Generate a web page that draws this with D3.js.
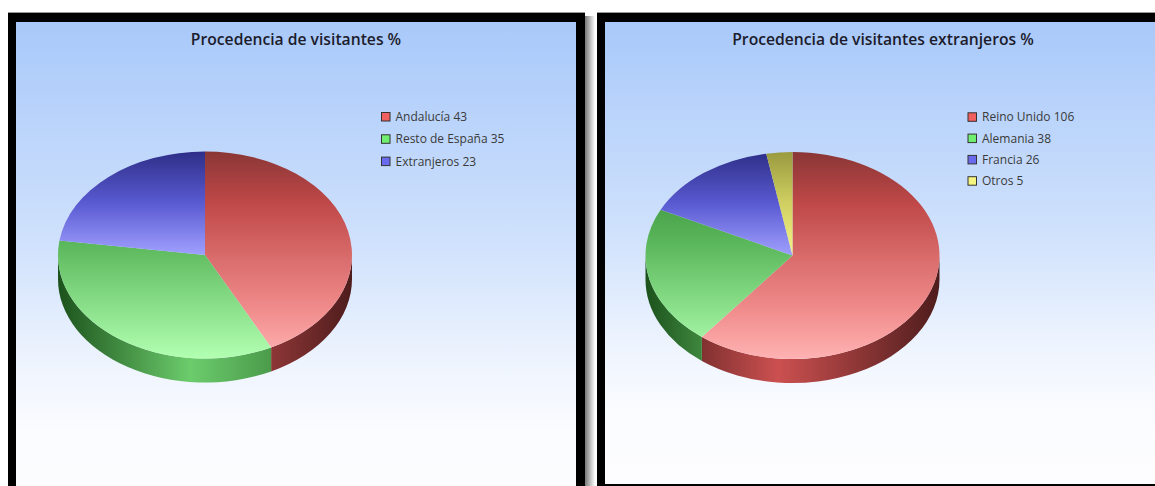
<!DOCTYPE html>
<html>
<head>
<meta charset="utf-8">
<script src="https://cdn.jsdelivr.net/npm/d3@7"></script>
<style>
  body { margin: 0; background: #fff; }
  svg { display: block; }
  text { font-family: "Open Sans", "Noto Sans", sans-serif; }
</style>
</head>
<body>
<script>
// data
const titles = ["Procedencia de visitantes %", "Procedencia de visitantes extranjeros %"]
const leftLabels = ["Andalucía", "Resto de España", "Extranjeros"]
const leftValues = [43, 35, 23]
const rightLabels = ["Reino Unido", "Alemania", "Francia", "Otros"]
const rightValues = [106, 38, 26, 5]

// colour ramps for the top faces (dark at the back, light at the front)
const topRamps = {
  red:    [[0, "#8a3636"], [0.25, "#c04848"], [0.5, "#d86a6a"], [0.75, "#f08a8a"], [1, "#ffb2b2"]],
  green:  [[0, "#2e7a2e"], [0.25, "#48a048"], [0.45, "#5cb85c"], [0.75, "#8ae08a"], [1, "#b2ffb2"]],
  blue:   [[0, "#2e2e88"], [0.25, "#5a5ad2"], [0.5, "#a0a0ff"], [1, "#c8c8ff"]],
  yellow: [[0, "#9a9a40"], [0.25, "#d0d062"], [0.5, "#f4f48a"], [1, "#ffffb8"]]
}
const sideRamps = {
  red:    [[0, "#4a1a1a"], [0.45, "#cc5050"], [1, "#4e1c1c"]],
  green:  [[0, "#1c521c"], [0.45, "#6ccc6c"], [1, "#2a6a2a"]],
  blue:   [[0, "#1e1e60"], [0.45, "#6060d0"], [1, "#1e1e60"]],
  yellow: [[0, "#60601e"], [0.45, "#d0d060"], [1, "#60601e"]]
}
const swatch = { red: "#f06060", green: "#70ee70", blue: "#6a6aee", yellow: "#f4f480" }

const W = 1155, H = 486

const svg = d3.select("body")
  .append("svg")
  .attr("width", W)
  .attr("height", H)

const defs = svg.append("defs")

const bg = defs.append("linearGradient")
  .attr("id", "bg")
  .attr("x1", 0).attr("y1", 0).attr("x2", 0).attr("y2", 1)
bg.append("stop").attr("offset", 0).attr("stop-color", "#a9c9fa")
bg.append("stop").attr("offset", 0.45).attr("stop-color", "#cfe1fc")
bg.append("stop").attr("offset", 0.7).attr("stop-color", "#eef4fe")
bg.append("stop").attr("offset", 0.85).attr("stop-color", "#fbfcff")
bg.append("stop").attr("offset", 1).attr("stop-color", "#fdfdff")

const shadow = defs.append("linearGradient")
  .attr("id", "shadow")
  .attr("x1", 0).attr("y1", 0).attr("x2", 1).attr("y2", 0)
shadow.append("stop").attr("offset", 0).attr("stop-color", "#777")
shadow.append("stop").attr("offset", 1).attr("stop-color", "#fff")

const panels = [
  { x: 16, y: 22, w: 560, title: titles[0], labels: leftLabels, values: leftValues,
    colors: ["red", "green", "blue"], cx: 205, cy: 255, legX: 381, legY: 112, legStep: 22.3 },
  { x: 605, y: 22, w: 560, title: titles[1], labels: rightLabels, values: rightValues,
    colors: ["red", "green", "blue", "yellow"], cx: 792.5, cy: 255.5, legX: 967.5, legY: 112.3, legStep: 21.3 }
]

const rx = 147, ry = 103.5, depth = 24

panels.forEach((p, pi) => {
  // frame + shadow
  svg.append("rect")
    .attr("x", p.x + p.w + 9).attr("y", p.y - 6)
    .attr("width", 10).attr("height", H)
    .attr("fill", "url(#shadow)")
  svg.append("rect")
    .attr("x", p.x - 8).attr("y", p.y - 9.5)
    .attr("width", p.w + 17).attr("height", H)
    .attr("fill", "#000")
  svg.append("line")
    .attr("x1", p.x - 8).attr("x2", p.x + p.w + 9)
    .attr("y1", p.y - 9.5).attr("y2", p.y - 9.5)
    .attr("stroke", "#999").attr("stroke-width", 1)
  svg.append("rect")
    .attr("x", p.x).attr("y", p.y)
    .attr("width", p.w).attr("height", pi === 1 ? 462 : H)
    .attr("fill", "url(#bg)")

  svg.append("text")
    .attr("x", p.x + p.w / 2 - (pi === 1 ? 2 : 0))
    .attr("y", 44.5)
    .attr("text-anchor", "middle")
    .attr("font-size", 15.7)
    .attr("font-weight", 600)
    .attr("fill", "#1c1c2c")
    .text(p.title)

  const pie = d3.pie().sort(null)(p.values)

  // gradients for this pie
  p.colors.forEach(c => {
    const tg = defs.append("linearGradient")
      .attr("id", `top-${pi}-${c}`)
      .attr("gradientUnits", "userSpaceOnUse")
      .attr("x1", 0).attr("x2", 0)
      .attr("y1", p.cy - ry).attr("y2", p.cy + ry)
    topRamps[c].forEach(s => tg.append("stop").attr("offset", s[0]).attr("stop-color", s[1]))
    const sg = defs.append("linearGradient")
      .attr("id", `side-${pi}-${c}`)
      .attr("gradientUnits", "userSpaceOnUse")
      .attr("y1", 0).attr("y2", 0)
      .attr("x1", p.cx - rx).attr("x2", p.cx + rx)
    sideRamps[c].forEach(s => sg.append("stop").attr("offset", s[0]).attr("stop-color", s[1]))
  })

  const pt = (a, dy = 0) => [p.cx + rx * Math.sin(a), p.cy - ry * Math.cos(a) + dy]

  const g = svg.append("g")

  // front walls
  pie.forEach((d, i) => {
    const a = Math.max(d.startAngle, Math.PI / 2)
    const b = Math.min(d.endAngle, Math.PI * 1.5)
    if (b <= a) return
    const p0 = pt(a), p1 = pt(b), q1 = pt(b, depth), q0 = pt(a, depth)
    g.append("path")
      .attr("d", `M${p0}A${rx},${ry} 0 0 1 ${p1}L${q1}A${rx},${ry} 0 0 0 ${q0}Z`)
      .attr("fill", `url(#side-${pi}-${p.colors[i]})`)
  })

  // top faces
  pie.forEach((d, i) => {
    const p0 = pt(d.startAngle), p1 = pt(d.endAngle)
    const large = d.endAngle - d.startAngle > Math.PI ? 1 : 0
    g.append("path")
      .attr("d", `M${p.cx},${p.cy}L${p0}A${rx},${ry} 0 ${large} 1 ${p1}Z`)
      .attr("fill", `url(#top-${pi}-${p.colors[i]})`)
  })

  // legend
  const legend = svg.append("g")
    .attr("transform", `translate(${p.legX}, ${p.legY})`)
  p.labels.forEach((l, i) => {
    legend.append("rect")
      .attr("x", 0.5).attr("y", i * p.legStep + 0.5)
      .attr("width", 8.5).attr("height", 8.5)
      .attr("fill", swatch[p.colors[i]])
      .attr("stroke", "#333").attr("stroke-width", 1)
    legend.append("text")
      .attr("x", 14.5).attr("y", i * p.legStep + 9)
      .attr("font-size", 12)
      .attr("fill", "#3a3a3a")
      .text(`${l} ${p.values[i]}`)
  })
})
</script>
</body>
</html>
